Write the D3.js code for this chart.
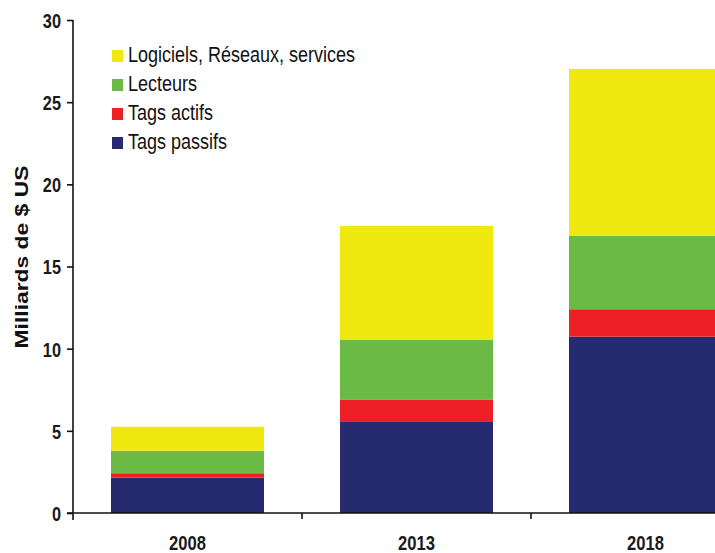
<!DOCTYPE html>
<html><head><meta charset="utf-8">
<script src="https://cdn.jsdelivr.net/npm/d3@7"></script>
<style>
body{margin:0;background:#fff;}
text{font-family:"Liberation Sans",Arial,sans-serif;}
</style></head>
<body><svg id="c" width="715" height="553"></svg>
<script>
const years = ["2008","2013","2018"];
const tagsPassifs = [2.15, 5.54, 10.73];
const tagsActifs = [0.27, 1.34, 1.67];
const lecteurs = [1.37, 3.65, 4.46];
const logiciels = [1.46, 6.94, 10.16];
const seriesNames = ["Tags passifs","Tags actifs","Lecteurs","Logiciels, Réseaux, services"];
const seriesColors = ["#262a6e","#ee1f25","#6aba45","#f0e90f"];
const yTicks = [0,5,10,15,20,25,30];
const yLabel = "Milliards de $ US";

const SY = 1.27;
const svg = d3.select("#c");
const rows = years.map((y,i)=>({year:y, s0:tagsPassifs[i], s1:tagsActifs[i], s2:lecteurs[i], s3:logiciels[i]}));
const stack = d3.stack().keys(["s0","s1","s2","s3"])(rows);

const x = d3.scaleBand().domain(years).range([73,760]).paddingInner(0.332).paddingOuter(0.166);
const y = d3.scaleLinear().domain([0,30]).range([513,20]);

// bars
stack.forEach((layer,k)=>{
  svg.append("g").selectAll("rect").data(layer).join("rect")
    .attr("x", d=>x(d.data.year))
    .attr("width", x.bandwidth())
    .attr("y", d=>y(d[1]))
    .attr("height", d=>y(d[0])-y(d[1]))
    .attr("fill", seriesColors[k]);
});

// y axis
const ya = svg.append("g").attr("transform","translate(73,0)")
  .call(d3.axisLeft(y).tickValues(yTicks).tickSize(6).tickSizeOuter(0));
ya.select(".domain").attr("d","M0,20V520").attr("stroke","#111").attr("stroke-width",1.6);
ya.selectAll(".tick line").attr("stroke","#111").attr("stroke-width",1.6);
ya.selectAll(".tick text").attr("x",null).attr("dy",null)
  .attr("transform",`translate(-12,0) scale(1,${SY})`)
  .attr("dy","0.36em")
  .attr("font-size","16.3px").attr("font-weight","bold").attr("fill","#1a1a1a")
  .attr("font-family","'Liberation Sans',Arial,sans-serif");

// x axis
const xa = svg.append("g").attr("transform","translate(0,513)");
xa.append("line").attr("x1",67).attr("x2",715).attr("y1",0).attr("y2",0)
  .attr("stroke","#111").attr("stroke-width",1.6);
const bounds = years.slice(1).map(yr => x(yr) - x.step()*x.paddingInner()/2);
xa.selectAll("line.b").data(bounds).join("line").attr("class","b")
  .attr("x1",d=>d).attr("x2",d=>d).attr("y1",0).attr("y2",6)
  .attr("stroke","#111").attr("stroke-width",1.6);
xa.selectAll("text").data(years).join("text")
  .attr("transform", d=>`translate(${x(d)+x.bandwidth()/2},37) scale(1,${SY})`)
  .attr("text-anchor","middle").attr("font-size","16.6px").attr("font-weight","bold")
  .attr("fill","#1a1a1a").text(d=>d);

// y label
svg.append("text")
  .attr("transform",`translate(28,257) scale(1,${SY}) rotate(-90)`)
  .attr("text-anchor","middle").attr("font-size","18px").attr("font-weight","bold")
  .attr("fill","#111").text(yLabel);

// legend
const legOrder = [3,2,1,0];
const lg = svg.append("g").selectAll("g").data(legOrder).join("g")
  .attr("transform",(d,i)=>`translate(112,${62 + i*29})`);
lg.append("rect").attr("x",0).attr("y",-12).attr("width",11).attr("height",12)
  .attr("fill",d=>seriesColors[d]);
lg.append("text").attr("transform",`translate(16,0) scale(1,${SY})`)
  .attr("font-size","18px").attr("fill","#111").text(d=>seriesNames[d]);
</script></body></html>
